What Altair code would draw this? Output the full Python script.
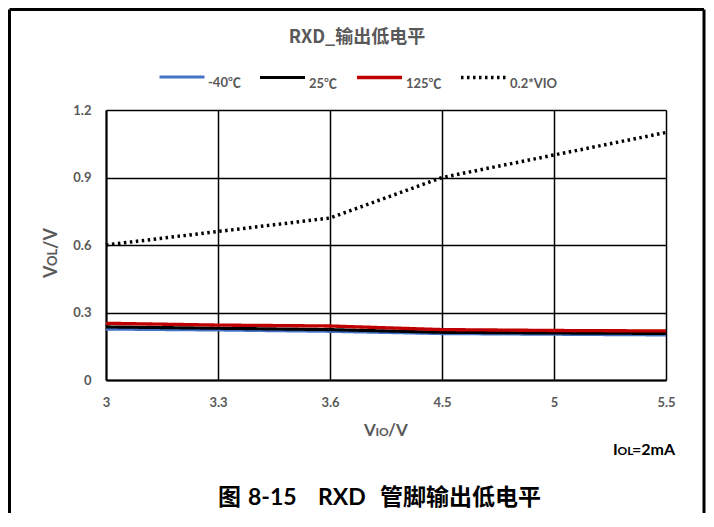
import altair as alt
import pandas as pd

# ---- data ----
vio = ["3", "3.3", "3.6", "4.5", "5", "5.5"]
series_order = ["-40℃", "25℃", "125℃", "0.2*VIO"]
vol_m40 = [0.226, 0.222, 0.216, 0.206, 0.203, 0.200]
vol_25 = [0.236, 0.230, 0.224, 0.212, 0.209, 0.207]
vol_125 = [0.252, 0.244, 0.240, 0.224, 0.220, 0.218]
vol_ref = [0.60, 0.66, 0.72, 0.90, 1.00, 1.10]
y_ticks = [0, 0.3, 0.6, 0.9, 1.2]

colors = ["#4472C4", "#000000", "#C00000", "#000000"]
dashes = [[1, 0], [1, 0], [1, 0], [2.5, 3.5]]
widths = [3, 3.5, 4, 2.5]

rows = []
for name, vals in zip(series_order, [vol_m40, vol_25, vol_125, vol_ref]):
    for x, v in zip(vio, vals):
        rows.append({"vio": x, "series": name, "v": v})
df = pd.DataFrame(rows)

W, H = 560, 270
PL, PT, PR, PB = 98, 102, 40, 133
FONT = "Lato, 'Noto Sans CJK SC', sans-serif"
CJK = "'Noto Sans CJK SC', Lato, sans-serif"
GRAY = "#595959"

legend = alt.Legend(
    title=None, orient="none", legendX=52, legendY=-57, direction="horizontal",
    symbolType="stroke", symbolSize=2025, symbolStrokeWidth=4, padding=0,
    labelFont=FONT, labelFontSize=13, labelFontWeight="bold", labelColor=GRAY,
    labelOffset=2, labelBaseline="top", columnPadding=12, gridAlign="none",
)

axis_common = dict(
    title=None, ticks=False, labelFont=FONT, labelFontSize=13,
    labelFontWeight="bold", labelColor=GRAY, grid=True, gridColor="#000000",
    gridWidth=1.5, domainColor="#000000", domainWidth=2,
)

enc = dict(
    x=alt.X("vio:O", sort=vio, scale=alt.Scale(type="point", padding=0),
            axis=alt.Axis(labelAngle=0, labelPadding=16, **axis_common)),
    y=alt.Y("v:Q", scale=alt.Scale(domain=[0, 1.2]),
            axis=alt.Axis(values=y_ticks, format=".1~f", labelPadding=15,
                          **axis_common)),
    color=alt.Color("series:N", scale=alt.Scale(domain=series_order, range=colors),
                    legend=legend),
    strokeDash=alt.StrokeDash("series:N",
                              scale=alt.Scale(domain=series_order, range=dashes),
                              legend=legend),
    strokeWidth=alt.StrokeWidth("series:N",
                                scale=alt.Scale(domain=series_order, range=widths),
                                legend=None),
)

base = alt.Chart(df)
line_layers = []
for name in ["0.2*VIO", "-40℃", "25℃", "125℃"]:
    line_layers.append(
        base.mark_line(strokeCap="butt")
        .transform_filter(alt.datum.series == name)
        .encode(**enc)
    )

one = alt.Data(values=[{}])


def txt(text, x, y, size, color, align="center", baseline="middle",
        angle=0, font=FONT):
    return alt.Chart(one).mark_text(
        text=text, font=font, fontSize=size, fontWeight="bold", color=color,
        align=align, baseline=baseline, angle=angle,
    ).encode(x=alt.value(x), y=alt.value(y))


texts = [
    txt("RXD_输出低电平", 251, -72, 18, GRAY, font=CJK),
    # x title  V_IO/V
    txt("V", 258, 326, 17, GRAY, align="left", baseline="alphabetic"),
    txt("IO", 269.5, 326, 12, GRAY, align="left", baseline="alphabetic"),
    txt("/V", 282, 326, 17, GRAY, align="left", baseline="alphabetic"),
    # y title  V_OL/V (rotated)
    txt("V", -49, 168, 18, GRAY, align="left", baseline="alphabetic", angle=270),
    txt("OL", -49, 156, 13, GRAY, align="left", baseline="alphabetic", angle=270),
    txt("/V", -49, 139, 18, GRAY, align="left", baseline="alphabetic", angle=270),
    # I_OL=2mA
    txt("I", 507, 345, 16, "#000000", align="left", baseline="alphabetic"),
    txt("OL", 511.6, 345, 12, "#000000", align="left", baseline="alphabetic"),
    txt("=2mA", 526, 345, 16, "#000000", align="left", baseline="alphabetic"),
    # caption, in pieces
    txt("图", 112, 388, 23, "#000000", align="left", font=CJK),
    txt("8-15", 142, 388, 23, "#000000", align="left"),
    txt("RXD", 212, 388, 23, "#000000", align="left"),
    txt("管脚输出低电平", 274, 388, 23, "#000000", align="left", font=CJK),
]

frame = [
    alt.Chart(one).mark_rule(color="#000000", strokeWidth=3).encode(
        x=alt.value(-96.5), y=alt.value(-100.5), y2=alt.value(H + PB)),
    alt.Chart(one).mark_rule(color="#000000", strokeWidth=3).encode(
        x=alt.value(598), y=alt.value(-100.5), y2=alt.value(H + PB)),
    alt.Chart(one).mark_rule(color="#000000", strokeWidth=3).encode(
        x=alt.value(-96.5), x2=alt.value(598), y=alt.value(-100.5)),
]

chart = alt.layer(*line_layers, *texts, *frame).properties(
    width=W, height=H,
    autosize=alt.AutoSizeParams(type="none"),
    padding={"left": PL, "top": PT, "right": PR, "bottom": PB},
).configure_view(stroke="#000000", strokeWidth=2).configure(background="white")

chart.save("out.html", embed_options={"renderer": "svg", "actions": False})
